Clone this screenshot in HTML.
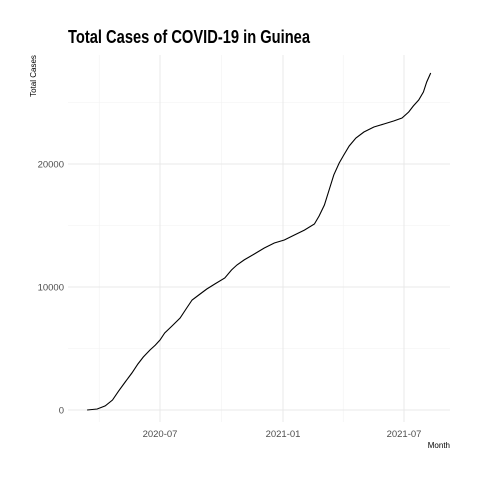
<!DOCTYPE html>
<html><head><meta charset="utf-8"><style>
body{margin:0;background:#fff;}
svg text{font-family:"Liberation Sans",sans-serif;}
</style></head><body>
<svg id="chart" width="480" height="480" viewBox="0 0 480 480" xmlns="http://www.w3.org/2000/svg">
<rect width="480" height="480" fill="#fff"/>
<text x="68" y="43" font-size="18" font-weight="bold" fill="#000" textLength="242" lengthAdjust="spacingAndGlyphs">Total Cases of COVID-19 in Guinea</text>
<text transform="translate(36,76) rotate(-90)" font-size="8" text-anchor="middle" fill="#000">Total Cases</text>
<text x="450" y="448" font-size="8" text-anchor="end" fill="#000">Month</text>
<g id="grid"></g><g id="axes"></g><g id="series"></g>
</svg>
<script>
const dates=["2020-03-14","2020-03-29","2020-04-10","2020-04-21","2020-04-30","2020-05-10","2020-05-20","2020-05-29","2020-06-06","2020-06-16","2020-06-24","2020-07-01","2020-07-08","2020-07-19","2020-07-31","2020-08-10","2020-08-18","2020-08-30","2020-09-09","2020-09-21","2020-10-06","2020-10-16","2020-10-24","2020-11-04","2020-11-19","2020-12-04","2020-12-19","2021-01-03","2021-01-18","2021-02-02","2021-02-17","2021-02-24","2021-03-04","2021-03-11","2021-03-18","2021-03-26","2021-04-02","2021-04-10","2021-04-20","2021-05-02","2021-05-17","2021-06-01","2021-06-16","2021-06-28","2021-07-08","2021-07-15","2021-07-23","2021-07-30","2021-08-04","2021-08-10"];
const cases=[0,80,330,810,1540,2280,3010,3740,4310,4880,5280,5690,6260,6830,7480,8290,8940,9430,9840,10240,10730,11380,11790,12200,12680,13170,13580,13820,14230,14630,15120,15770,16670,17890,19110,20080,20730,21460,22110,22600,23010,23250,23500,23740,24230,24720,25200,25850,26670,27400];
const yTicks=[0,10000,20000];
const yMinor=[5000,15000,25000];
const xTicks=["2020-07-01","2021-01-01","2021-07-01"];
const xTickLabels=["2020-07","2021-01","2021-07"];
const xMinor=["2020-04-01","2020-10-01","2021-04-01"];
const NS="http://www.w3.org/2000/svg";
const t0=Date.parse("2020-07-01"),t1=Date.parse("2021-07-01");
const X=d=>160+(Date.parse(d)-t0)/(t1-t0)*244;
const Y=v=>410-v*0.0123;
const L=68,R=450,T=55,B=422;
function mk(tag,attrs,parent){const e=document.createElementNS(NS,tag);for(const k in attrs)e.setAttribute(k,attrs[k]);parent.appendChild(e);return e;}
const grid=document.getElementById('grid'),axes=document.getElementById('axes'),series=document.getElementById('series');
yMinor.forEach(v=>{const l=mk('line',{x1:L,x2:R,y1:Y(v),y2:Y(v),stroke:'#f2f2f2','stroke-width':0.6},grid);

});
xMinor.forEach(d=>{const l=mk('line',{x1:X(d),x2:X(d),y1:T,y2:B,stroke:'#f2f2f2','stroke-width':0.6},grid);

});
yTicks.forEach(v=>{const l=mk('line',{x1:L,x2:R,y1:Y(v),y2:Y(v),stroke:'#e8e8e8','stroke-width':1},grid);


const t=mk('text',{x:64,y:Y(v)+3.5,'font-size':9.5,'text-anchor':'end',fill:'#4d4d4d'},axes);t.textContent=v;

});
xTicks.forEach((d,i)=>{const l=mk('line',{x1:X(d),x2:X(d),y1:T,y2:B,stroke:'#e8e8e8','stroke-width':1},grid);


const t=mk('text',{x:X(d),y:437,'font-size':9.5,'text-anchor':'middle',fill:'#4d4d4d'},axes);t.textContent=xTickLabels[i];

});
const p=mk('polyline',{points:dates.map((d,i)=>X(d).toFixed(1)+','+Y(cases[i]).toFixed(1)).join(' '),fill:'none',stroke:'#000','stroke-width':1.1},series);


</script>
</body></html>
